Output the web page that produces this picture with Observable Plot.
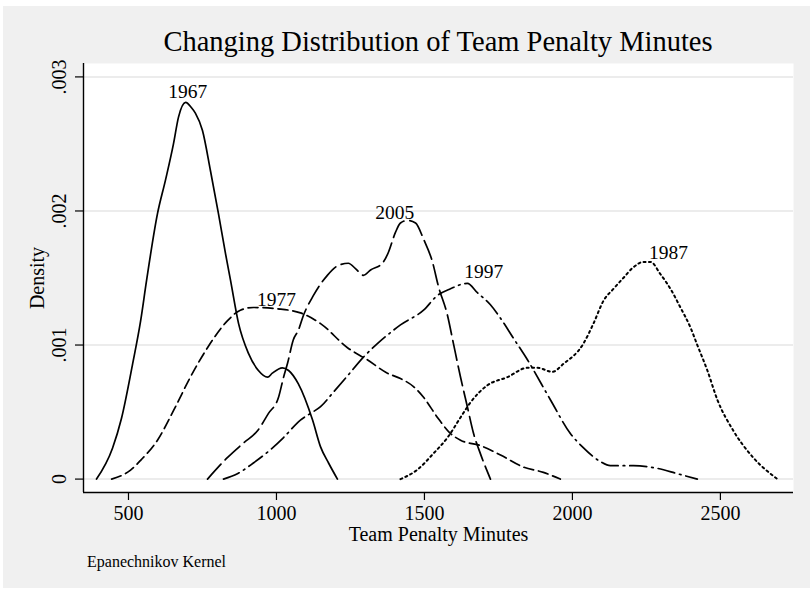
<!DOCTYPE html>
<html>
<head>
<meta charset="utf-8">
<script src="https://cdn.jsdelivr.net/npm/d3@7"></script>
<script src="https://cdn.jsdelivr.net/npm/@observablehq/plot@0.6"></script>
<style>
html, body { margin: 0; padding: 0; background: #ffffff; }
#wrap { position: absolute; left: 3px; top: 6px; width: 807px; height: 582px; background: #f0f0f0;
  font-family: "Liberation Serif", "Times New Roman", serif; color: #000; }
#title { box-sizing: border-box; height: 50px; padding-top: 22px; margin-left: 80px; width: 710px;
  font-size: 28.5px; line-height: 1; text-align: center; white-space: nowrap; }
#chart svg { display: block; }
#chart svg text { font-family: "Liberation Serif", "Times New Roman", serif; }
#caption { padding-left: 84px; padding-top: 6px; font-size: 16px; line-height: 1; }
</style>
</head>
<body>
<div id="wrap">
  <div id="title">Changing Distribution of Team Penalty Minutes</div>
  <div id="chart"></div>
  <div id="caption">Epanechnikov Kernel</div>
</div>
<script>
// ---- data ----
const years = ["1967", "1977", "1987", "1997", "2005"];

const x1967 = [392, 446, 476, 514, 541, 561, 598, 625, 652, 669, 693, 713, 726, 750, 777, 804, 828, 845, 872, 905, 939, 970, 986, 1020, 1041, 1074, 1122, 1149, 1176, 1206];
const d1967 = [0, 0.00023, 0.00045, 0.00086, 0.00118, 0.00148, 0.00198, 0.00223, 0.00250, 0.00270, 0.00281, 0.00277, 0.00273, 0.00260, 0.00230, 0.00198, 0.00168, 0.00148, 0.00116, 0.00094, 0.00081, 0.00076, 0.00079, 0.00083, 0.00081, 0.00071, 0.00044, 0.00024, 0.00012, 0];

const x1977 = [443, 507, 541, 598, 652, 709, 767, 834, 878, 922, 1003, 1081, 1149, 1240, 1307, 1375, 1419, 1463, 1497, 1544, 1588, 1622, 1689, 1757, 1834, 1902, 1959];
const d1977 = [0, 0.000067, 0.00014, 0.00029, 0.00051, 0.00076, 0.00098, 0.00118, 0.00126, 0.00128, 0.00127, 0.00124, 0.00116, 0.00098, 0.00089, 0.00079, 0.00075, 0.00069, 0.00061, 0.00046, 0.00034, 0.00029, 0.00025, 0.00018, 0.00009, 0.00005, 0];

const x1987 = [1419, 1476, 1530, 1578, 1622, 1655, 1713, 1780, 1848, 1882, 1932, 1970, 2037, 2071, 2105, 2139, 2172, 2206, 2240, 2264, 2297, 2331, 2365, 2399, 2422, 2456, 2490, 2544, 2611, 2693];
const d1987 = [0, 0.00007, 0.00019, 0.00031, 0.00046, 0.00057, 0.00070, 0.00076, 0.00083, 0.00083, 0.00080, 0.00086, 0.00101, 0.00116, 0.00133, 0.00142, 0.00150, 0.00158, 0.00162, 0.00162, 0.00153, 0.00142, 0.00128, 0.00113, 0.00100, 0.00081, 0.00059, 0.00036, 0.00016, 0];

const x1997 = [821, 868, 922, 980, 1024, 1081, 1115, 1149, 1193, 1240, 1294, 1341, 1395, 1419, 1497, 1544, 1588, 1645, 1679, 1723, 1757, 1801, 1848, 1926, 1993, 2034, 2095, 2128, 2206, 2287, 2355, 2422];
const d1997 = [0, 0.00004, 0.00012, 0.00022, 0.00031, 0.00044, 0.00049, 0.00054, 0.00065, 0.00077, 0.00091, 0.00101, 0.00111, 0.00115, 0.00126, 0.00137, 0.00142, 0.00146, 0.00139, 0.00130, 0.00120, 0.00105, 0.00089, 0.00059, 0.00034, 0.00024, 0.00013, 0.00010, 0.00010, 0.00008, 0.00004, 0];

const x2005 = [767, 834, 889, 936, 973, 1007, 1024, 1037, 1057, 1074, 1091, 1125, 1172, 1206, 1243, 1267, 1294, 1318, 1358, 1378, 1402, 1419, 1443, 1470, 1497, 1527, 1547, 1578, 1598, 1622, 1645, 1666, 1689, 1723];
const d2005 = [0, 0.00016, 0.00027, 0.00036, 0.00049, 0.00061, 0.00076, 0.00086, 0.00104, 0.00111, 0.00122, 0.00137, 0.00152, 0.00159, 0.00161, 0.00157, 0.00152, 0.00156, 0.00161, 0.00169, 0.00184, 0.00191, 0.00193, 0.00191, 0.00179, 0.00162, 0.00144, 0.00122, 0.00101, 0.00076, 0.00054, 0.00034, 0.00019, 0];

// curve labels (position in data units)
const labelYears = ["1967", "1977", "2005", "1997", "1987"];
const labelX = [700, 1000, 1400, 1700, 2325];
const labelY = [0.002893, 0.001341, 0.001990, 0.001543, 0.001692];

// axes
const xTicks = [500, 1000, 1500, 2000, 2500];
const xTickLabels = ["500", "1000", "1500", "2000", "2500"];
const yTicks = [0, 0.001, 0.002, 0.003];
const yTickLabels = ["0", ".001", ".002", ".003"];
const xDomain = [348, 2747];
const yDomain = [-0.0001, 0.0031];

// ---- build tables ----
const seriesX = {"1967": x1967, "1977": x1977, "1987": x1987, "1997": x1997, "2005": x2005};
const seriesD = {"1967": d1967, "1977": d1977, "1987": d1987, "1997": d1997, "2005": d2005};
const dashes = {"1967": null, "1977": "10,5", "1987": "2,3.4", "1997": "17,5,1.6,5", "2005": "20,6"};
const widths = {"1967": 1.7, "1977": 1.7, "1987": 2, "1997": 1.7, "2005": 1.7};

const labels = labelYears.map((y, i) => ({year: y, x: labelX[i], y: labelY[i]}));

const serif = "Liberation Serif, Times New Roman, serif";

const lineMarks = years.map(yr => {
  const rows = seriesX[yr].map((x, i) => ({x, d: seriesD[yr][i]}));
  return Plot.line(rows, {x: "x", y: "d", stroke: "black", strokeWidth: widths[yr],
    strokeDasharray: dashes[yr], curve: "monotone-x"});
});

const chart = Plot.plot({
  width: 807,
  height: 492,
  marginTop: 7,
  marginLeft: 80,
  marginRight: 17,
  marginBottom: 56,
  style: {fontFamily: serif, background: "transparent", color: "black"},
  x: {domain: xDomain},
  y: {domain: yDomain},
  marks: [
    Plot.frame({fill: "white", stroke: "none"}),
    Plot.ruleY(yTicks, {stroke: "#e6e6e6", strokeWidth: 1.5}),
    ...lineMarks,
    Plot.ruleY([yDomain[0]], {stroke: "black", strokeWidth: 1.4}),
    Plot.ruleX([xDomain[0]], {stroke: "black", strokeWidth: 1.4}),
    Plot.text(labels, {x: "x", y: "y", text: "year", fontSize: 19.5, fontFamily: serif,
      textAnchor: "middle", lineAnchor: "middle", fill: "black"}),
    Plot.axisX(xTicks, {tickSize: 8, tickPadding: 5, fontSize: 20, fontFamily: serif, strokeWidth: 1.2,
      tickFormat: d => xTickLabels[xTicks.indexOf(d)],
      label: "Team Penalty Minutes", labelArrow: "none", labelAnchor: "center", labelOffset: 48}),
    Plot.axisY(yTicks, {tickSize: 8, tickPadding: 10, tickRotate: -90, fontSize: 20, fontFamily: serif, strokeWidth: 1.2,
      tickFormat: d => yTickLabels[yTicks.indexOf(d)],
      label: "Density", labelArrow: "none", labelAnchor: "center", labelOffset: 54})
  ]
});
document.getElementById("chart").appendChild(chart);
</script>
</body>
</html>
